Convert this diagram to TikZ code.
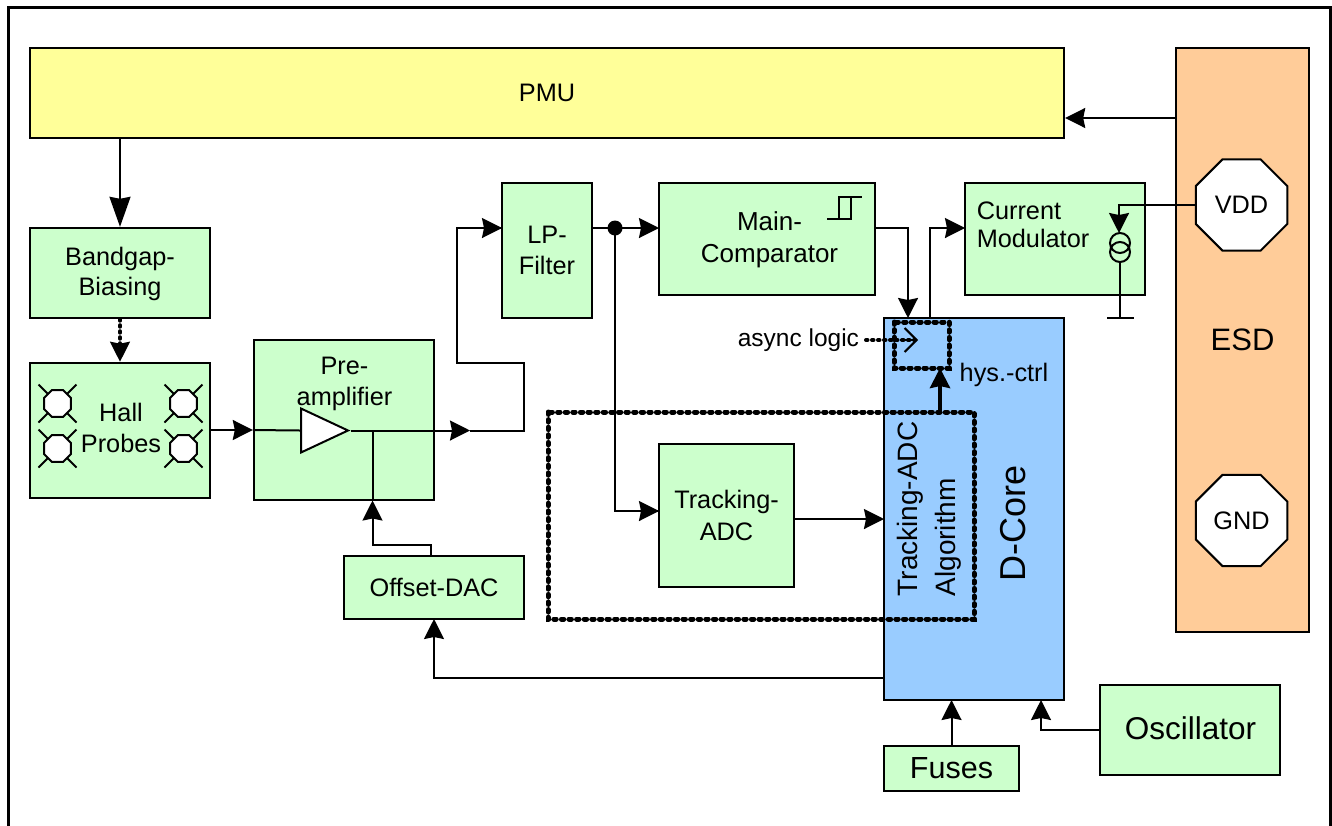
\documentclass[tikz,border=0pt]{standalone}
\usepackage{fontspec}
\setmainfont{Liberation Sans}
\usetikzlibrary{positioning,arrows.meta,shapes.geometric}
\definecolor{blockgreen}{HTML}{CCFFCC}
\definecolor{blockyellow}{HTML}{FFFF99}
\definecolor{blockblue}{HTML}{99CCFF}
\definecolor{blockorange}{HTML}{FFCC99}
\newcommand{\fsize}[1]{\fontsize{#1}{#1}\selectfont}

\begin{document}
\begin{tikzpicture}[x=1pt, y=-1pt, line width=2pt, >={Stealth[length=20pt,width=20pt,inset=2pt]},
  txt/.style = {font=\fsize{25.3}, align=center, inner sep=0pt, text height=18pt, text depth=5pt},
  main/.style = {draw, line width=2.4pt, fill=blockgreen, inner sep=0pt, align=center, font=\fsize{25.3}},
  pad/.style = {draw, line width=2pt, fill=white, regular polygon, regular polygon sides=8, minimum size=99pt, inner sep=0pt, font=\fsize{25.3}},
  probe/.style = {draw, fill=white, regular polygon, regular polygon sides=8, minimum size=29pt, inner sep=0pt},
  dots/.style = {line width=5pt, line cap=round, dash pattern=on 2.4pt off 5.2pt},
  smalldots/.style = {line width=4pt, line cap=round, dash pattern=on 1.5pt off 4.5pt}]
\useasboundingbox (0,0) rectangle (1332,825);
\draw[line width=3pt] (8,7) rectangle (1330,860);

\node[main, fill=blockyellow, minimum width=1034pt, minimum height=90pt] (pmu) at (547,93) {PMU};
\node[main, fill=blockorange, minimum width=133pt, minimum height=584pt, font=\fsize{31}] (esd) at (1242.5,340) {ESD};
\node[main, minimum width=180pt, minimum height=90pt] (bandgap) at (120,273) {};
\node[main, minimum width=180pt, minimum height=135pt] (hall) [below=42.5pt of bandgap] {};
\node[main, minimum width=180pt, minimum height=160pt] (preamp) at (344,420) {};
\node[main, minimum width=90pt, minimum height=135pt] (lp) at (547,250.5) {LP-\\[6pt]Filter};
\node[main, minimum width=216pt, minimum height=112pt] (comp) at (767,239) {};
\node[main, minimum width=180pt, minimum height=112pt] (mod) at (1055,239) {};
\node[main, minimum width=135pt, minimum height=143pt] (track) at (726.5,515.5) {Tracking-\\[6pt]ADC};
\node[main, minimum width=180pt, minimum height=63pt] (dac) at (434,587.5) {Offset-DAC};
\node[main, fill=blockblue, minimum width=180pt, minimum height=382pt] (dcore) at (974,509) {};
\node[main, minimum width=135pt, minimum height=45pt, font=\fsize{30.5}] (fuses) at (951.5,768.5) {Fuses};
\node[main, minimum width=180pt, minimum height=90pt] (osc) at (1190,730) {};

\node[pad] (vdd) at (1241.5,205) {VDD};
\node[pad] (gnd) at (1241.5,520.5) {GND};

% texts placed off the middle of their boxes
\node[font=\fsize{25.3}, align=center, inner sep=0pt] (gaptext) at (120,274) {Bandgap-\\[5pt]Biasing};
\node[font=\fsize{25.3}, align=center, inner sep=0pt] (halltext) at (121,428) {Hall\\[6pt]Probes};
\node[font=\fsize{26}, align=center, inner sep=0pt] (comptext) at (769.5,240) {Main-\\[6pt]Comparator};
\node[font=\fsize{25.3}, align=left, inner sep=0pt] (modtext) at (1033,225) {Current\\[3pt]Modulator};
\node[font=\fsize{31.5}, inner sep=0pt] (osctext) at (1190.5,728) {Oscillator};
\node[font=\fsize{36}, rotate=90, inner sep=0pt] (coretext) at (1013,523) {D-Core};
\node[font=\fsize{28}, rotate=90, align=left, inner sep=0pt] (algo) at (929,509) {Tracking-ADC\\[10pt]Algorithm};
\node[txt] (hys) at (1004,375) {hys.-ctrl};
\node[txt, font=\fsize{24.5}, anchor=east] (async) at (860,340) {async logic};

% hall probes
\foreach \x/\y in {57.5/403.5, 57.5/448.5, 183.5/403.5, 183.5/448.5}{
  \draw (\x,\y) +(-19,-19) -- +(19,19) +(-19,19) -- +(19,-19);
  \node[probe] at (\x,\y) {};
}

% preamplifier
\coordinate (hallout) at (210,430);
\node[draw, fill=white, isosceles triangle, isosceles triangle stretches, shape border rotate=0, minimum width=44pt, minimum height=47pt, inner sep=0pt, anchor=lower side] (amp) at (300,430.5) {};
\node[font=\fsize{25.3}, align=center, inner sep=0pt] (pretext) at (344.5,384) {Pre-\\[6pt]amplifier};

\coordinate (lpin) at (502,228);
\coordinate (ampmid) at (470,430.5);
\coordinate (lpout) at (592,228);
\coordinate (compin) at (659,228);
\coordinate (tap) at (615,228);
\coordinate (trackin) at (659,511);
\coordinate (trackout) at (794,519);
\coordinate (corein) at (884,519);
\coordinate (dacin) at (434,619);
\coordinate (dacout) at (430.5,556);
\coordinate (ampin) at (372.5,500.5);
\coordinate (coreout) at (884,677.5);
\coordinate (esdout) at (1176,118);
\coordinate (modin) at (965,228);
\coordinate (flop) at (908,318);
\coordinate (coreup) at (930,318);
\coordinate (compout) at (875,228);
\coordinate (src) at (1119,233);
\coordinate (gnda) at (1107,317.5);
\coordinate (gndb) at (1134,317.5);
\coordinate (oscout) at (1100,730);
\coordinate (oscin) at (1041,700);
\coordinate (fusein) at (951.5,700);

\draw[->] (esdout) -- (esdout -| pmu.east);
\draw[-{Stealth[length=30pt,width=21pt,inset=2pt]}] (pmu.south -| bandgap.north) -- (bandgap.north);
\draw[smalldots] (bandgap.south) -- ([yshift=12pt]hall.north);
\draw[->] ([yshift=16pt]hall.north) -- (hall.north);
\draw[->] (hallout) -- (hallout -| preamp.west);
\draw (hallout -| preamp.west) -- (amp.lower side);
\draw[->] (amp.apex) -- (ampmid);
\draw (ampmid) -- (524,430.5) -- (524,362.5) -- (457,362.5) |- (lpin);
\draw[->] (457,228) -- (lpin);
\draw (amp.apex -| ampin) -- (ampin);
\draw[->] (dacout) -- (430.5,545) -| (ampin);
\draw[->] (coreout) -| (dacin);
\draw[->] (lpout) -- (compin);
\draw (tap) |- (trackin);
\draw[->] (614,511) -- (trackin);
\fill (tap) circle (7.5);
\draw[->] (trackout) -- (corein);
\draw[->] (compout) -| (flop);
\draw[->] (coreup) |- (modin);
\draw[->] (fuses.north) -- (fusein);
\draw[->] (oscout) -| (oscin);

% current source
\draw[->] (vdd.west |- 0,205) -| (src);
\draw (1120,243) circle (10) (1120,252) circle (10);
\draw (1120,262) -- (1120,317.5);
\draw (gnda) -- (gndb);

% comparator symbol
\draw (827,219) -- (851,219) -- (851,197) (839,219) -- (839,197) -- (862,197);

% dotted boxes
\draw[dots] (548,412) rectangle (974,619);
\draw[dots] (894,322) rectangle (949,368);
\draw[line width=4pt, ->] (940,412) -- (940,368);
\draw[smalldots] (async.east) ++(6,0) -- (915,340);
\draw[-{Straight Barb[length=12pt,width=24pt,line width=2pt]}] (900,340) -- (918,340);
\end{tikzpicture}
\end{document}
